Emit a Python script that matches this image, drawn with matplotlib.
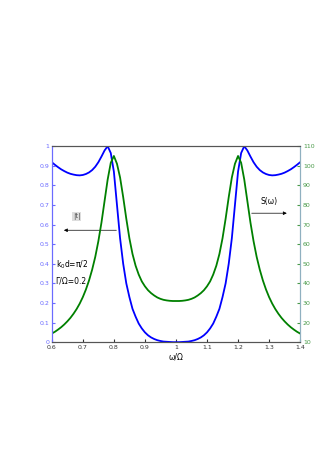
import numpy as np
import matplotlib
matplotlib.use('Agg')
import matplotlib.pyplot as plt

# frequency grid w/Omega
w = np.linspace(0.6, 1.4, 81)

# |t| (left axis)
t_abs = [0.918, 0.905, 0.893, 0.882, 0.873, 0.865, 0.859, 0.855, 0.852, 0.851,
         0.853, 0.858, 0.866, 0.878, 0.895, 0.918, 0.947, 0.978, 1.000, 0.965,
         0.870, 0.700, 0.530, 0.400, 0.300, 0.230, 0.170, 0.130, 0.095, 0.070,
         0.050, 0.035, 0.024, 0.016, 0.010, 0.006, 0.003, 0.002, 0.001, 0.000,
         0.000,
         0.000, 0.001, 0.002, 0.003, 0.006, 0.010, 0.016, 0.024, 0.035, 0.050,
         0.070, 0.095, 0.130, 0.170, 0.230, 0.300, 0.400, 0.530, 0.700, 0.870,
         0.965, 1.000, 0.978, 0.947, 0.918, 0.895, 0.878, 0.866, 0.858, 0.853,
         0.851, 0.852, 0.855, 0.859, 0.865, 0.873, 0.882, 0.893, 0.905, 0.918]

# S(w) (right axis)
S = [14.4, 15.3, 16.4, 17.6, 19.0, 20.6, 22.4, 24.5, 26.9, 29.7,
     33.0, 36.9, 41.5, 47.0, 53.5, 61.5, 71.0, 82.0, 93.0, 101.5,
     105.0, 101.0, 94.0, 84.0, 73.0, 63.0, 55.0, 49.0, 44.5, 41.0,
     38.5, 36.5, 35.0, 33.8, 32.8, 32.1, 31.6, 31.3, 31.1, 31.0,
     31.0,
     31.0, 31.1, 31.3, 31.6, 32.1, 32.8, 33.8, 35.0, 36.5, 38.5,
     41.0, 44.5, 49.0, 55.0, 63.0, 73.0, 84.0, 94.0, 101.0, 105.0,
     101.5, 93.0, 82.0, 71.0, 61.5, 53.5, 47.0, 41.5, 36.9, 33.0,
     29.7, 26.9, 24.5, 22.4, 20.6, 19.0, 17.6, 16.4, 15.3, 14.4]

xticks = [0.6, 0.7, 0.8, 0.9, 1.0, 1.1, 1.2, 1.3, 1.4]
xtick_labels = ['0.6', '0.7', '0.8', '0.9', '1', '1.1', '1.2', '1.3', '1.4']
lticks = [0, 0.1, 0.2, 0.3, 0.4, 0.5, 0.6, 0.7, 0.8, 0.9, 1.0]
ltick_labels = ['0', '0.1', '0.2', '0.3', '0.4', '0.5', '0.6', '0.7', '0.8', '0.9', '1']
rticks = [10, 20, 30, 40, 50, 60, 70, 80, 90, 100, 110]

fig = plt.figure(figsize=(3.32, 4.70), dpi=100)
ax = fig.add_axes([0.156, 0.272, 0.748, 0.417])
ax2 = ax.twinx()

ax.plot(w, t_abs, color='#0000ff', lw=1.3)
ax2.plot(w, S, color='#008000', lw=1.3)

ax.set_xlim(0.6, 1.4)
ax.set_ylim(0, 1)
ax2.set_ylim(10, 110)

ax.set_xticks(xticks)
ax.set_xticklabels(xtick_labels)
ax.set_yticks(lticks)
ax.set_yticklabels(ltick_labels)
ax2.set_yticks(rticks)

lblue = '#6b6bff'
lgreen = '#4a9a4a'
ax.tick_params(axis='x', direction='in', length=2, labelsize=4.5, pad=2, colors='#333333')
ax.tick_params(axis='y', direction='in', length=2, labelsize=4.5, pad=2, colors=lblue)
ax2.tick_params(axis='y', direction='in', length=2, labelsize=4.5, pad=2, colors=lgreen)
for a in (ax, ax2):
    a.spines['top'].set_color('#555555')
    a.spines['bottom'].set_color('#555555')
    a.spines['left'].set_color(lblue)
    a.spines['right'].set_color('#8fb0c0')
    for s in a.spines.values():
        s.set_linewidth(0.8)

ax.set_xlabel('ω/Ω', fontsize=5.5, labelpad=2)

# annotations
ax.text(0.68, 0.64, '|t|', fontsize=5, color='#555555', ha='center', va='center',
        bbox=dict(facecolor='#dddddd', edgecolor='none', pad=0.8))
ax.annotate('', xy=(0.63, 0.571), xytext=(0.817, 0.571),
            arrowprops=dict(arrowstyle='-|>', color='black', lw=0.5,
                            mutation_scale=5))
ax.text(0.612, 0.394, r'k$_0$d=π/2', fontsize=5.5, ha='left', va='center')
ax.text(0.612, 0.314, 'Γ/Ω=0.2', fontsize=5.5, ha='left', va='center')
ax.text(1.30, 0.717, 'S(ω)', fontsize=5.5, ha='center', va='center')
ax.annotate('', xy=(1.366, 0.658), xytext=(1.235, 0.658),
            arrowprops=dict(arrowstyle='-|>', color='black', lw=0.5,
                            mutation_scale=5))

fig.savefig('out.png', dpi=100)
